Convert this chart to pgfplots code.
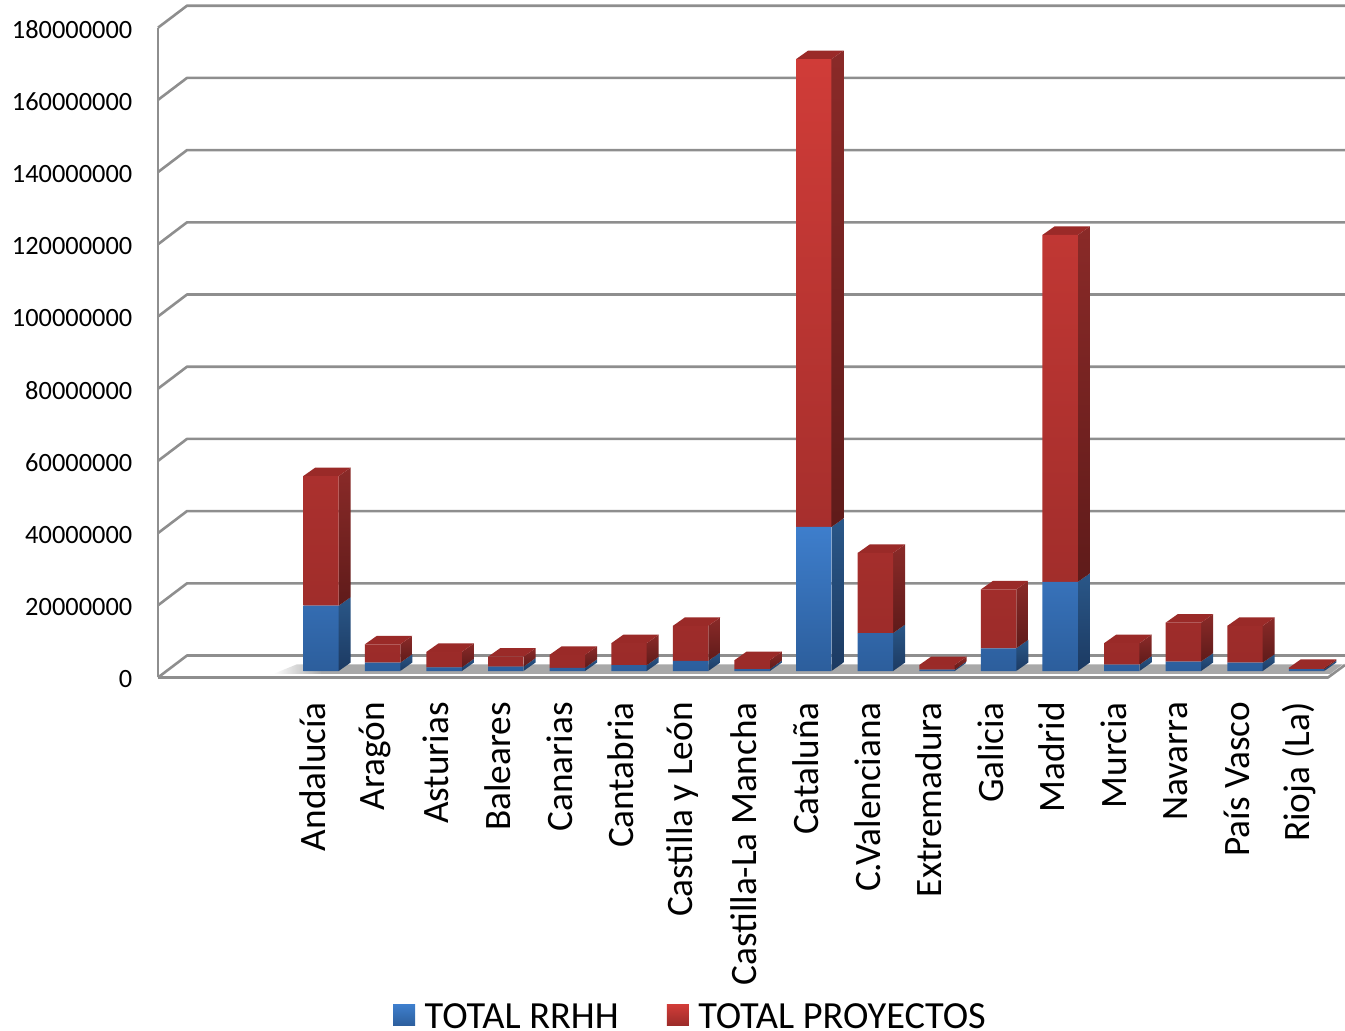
\documentclass[border=0pt]{standalone}
\usepackage{pgfplots}
\usepackage{pgfplotstable}
\usepackage{fontspec}
\setmainfont{Carlito}
\pgfplotsset{compat=1.18}
\definecolor{gridc}{HTML}{8E8E8E}
\definecolor{floorc}{HTML}{A8A8A8}
\definecolor{bluet}{HTML}{3E7ECC}
\definecolor{blueb}{HTML}{2C5E9C}
\definecolor{bluest}{HTML}{2A5788}
\definecolor{bluesb}{HTML}{1C3A62}
\definecolor{redt}{HTML}{D03C38}
\definecolor{redb}{HTML}{9A2B29}
\definecolor{redst}{HTML}{8A2A28}
\definecolor{redsb}{HTML}{5F1B1A}
\definecolor{redtop}{HTML}{9A2A28}
% values in millions; x = pixel position of the category
\pgfplotstableread{
x rrhh proy
321 18.1 35.9
382.6 2.3 5.1
444.2 1.0 4.3
505.8 1.2 2.76
567.4 0.9 3.6
629 1.6 6.1
690.6 2.8 9.7
752.2 0.55 2.45
813.8 39.9 129.6
875.4 10.5 22.2
937 0.35 1.31
998.6 6.3 16.3
1060.2 24.7 96.1
1121.8 1.75 5.95
1183.4 2.6 10.8
1245 2.3 10.2
1306.6 0.5 0.4
}\datatable
\pgfplotsset{
  common/.style={
    at={(0,0)}, anchor=south west, scale only axis,
    width=1187bp, height=673bp,
    xmin=158, xmax=1345, ymin=-1.939, ymax=184.49,
    clip=false,
  },
  sb/.style={top color=bluest,bottom color=bluesb,draw=none,no marks,forget plot},
  sr/.style={top color=redst,bottom color=redsb,draw=none,no marks,forget plot},
  tr/.style={fill=redtop,draw=none,no marks,forget plot},
  gl/.style={draw=gridc,line width=2.6bp,no marks,forget plot,line join=bevel},
}
\begin{document}
\begin{tikzpicture}
\useasboundingbox (-158bp,-353bp) rectangle (1187bp,678bp);
% walls, floor and the sides and tops of the columns
\begin{axis}[common, hide axis]
\addplot[gl] coordinates {(158,-1.8)(158,178.2)};
\addplot[gl] coordinates {(158,-1.8)(187,4.29)(1345,4.29)};
\addplot[gl] coordinates {(158,18.2)(187,24.29)(1345,24.29)};
\addplot[gl] coordinates {(158,38.2)(187,44.29)(1345,44.29)};
\addplot[gl] coordinates {(158,58.2)(187,64.29)(1345,64.29)};
\addplot[gl] coordinates {(158,78.2)(187,84.29)(1345,84.29)};
\addplot[gl] coordinates {(158,98.2)(187,104.29)(1345,104.29)};
\addplot[gl] coordinates {(158,118.2)(187,124.29)(1345,124.29)};
\addplot[gl] coordinates {(158,138.2)(187,144.29)(1345,144.29)};
\addplot[gl] coordinates {(158,158.2)(187,164.29)(1345,164.29)};
\addplot[gl] coordinates {(158,178.2)(187,184.29)(1345,184.29)};
\addplot[left color=white,right color=floorc,draw=none,no marks,forget plot]
  coordinates {(273,-0.83)(297,1.86)(322,1.86)(322,-0.83)} --cycle;
\addplot[fill=floorc,draw=none,no marks,forget plot]
  coordinates {(321,-0.83)(1330,-0.83)(1343,1.86)(321,1.86)} --cycle;
\addplot[gl] coordinates {(158,-1.8)(1328,-1.8)(1345,1.66)};
\pgfplotsforeachungrouped \i in {0,...,16}{%
  \pgfplotstablegetelem{\i}{x}\of\datatable\let\cx\pgfplotsretval
  \pgfplotstablegetelem{\i}{rrhh}\of\datatable\let\cr\pgfplotsretval
  \pgfplotstablegetelem{\i}{proy}\of\datatable\let\cp\pgfplotsretval
  \pgfmathsetmacro\xl{\cx-17.7}\pgfmathsetmacro\xr{\cx+17.7}
  \pgfmathsetmacro\xbl{\cx-5.7}\pgfmathsetmacro\xbr{\cx+29.7}
  \pgfmathsetmacro\tt{\cr+\cp}
  \pgfmathsetmacro\zb{2.35}\pgfmathsetmacro\rb{\cr+2.35}\pgfmathsetmacro\tb{\tt+2.35}
  \edef\temp{%
    \noexpand\addplot[sb] coordinates {(\xr,0)(\xbr,\zb)(\xbr,\rb)(\xr,\cr)} --cycle;
    \noexpand\addplot[sr] coordinates {(\xr,\cr)(\xbr,\rb)(\xbr,\tb)(\xr,\tt)} --cycle;
    \noexpand\addplot[tr] coordinates {(\xl,\tt)(\xr,\tt)(\xbr,\tb)(\xbl,\tb)} --cycle;
  }\temp
}
\end{axis}
% front faces of the columns, labels and legend
\begin{axis}[common,
  ybar stacked, bar width=35.4,
  axis line style={draw=none}, major tick length=0pt,
  tick style={draw=none},
  xtick=data,
  xticklabels={Andalucía,Aragón,Asturias,Baleares,Canarias,Cantabria,Castilla y León,Castilla-La Mancha,Cataluña,C.Valenciana,Extremadura,Galicia,Madrid,Murcia,Navarra,País Vasco,Rioja (La)},
  xticklabel style={rotate=90, anchor=east, xshift=-24bp, yshift=8bp,
     font=\fontsize{37.4}{40}\selectfont, inner sep=0pt},
  xtick pos=bottom, ytick pos=left,
  ytick={-1.8,18.2,38.2,58.2,78.2,98.2,118.2,138.2,158.2,178.2},
  yticklabels={0,20000000,40000000,60000000,80000000,100000000,120000000,140000000,160000000,180000000},
  yticklabel style={font=\fontsize{26.5}{30}\selectfont, anchor=east, xshift=-25.5bp, yshift=-1.5bp, inner sep=0pt},
  legend columns=2,
  legend style={at={(axis cs:690.5,-95.4)},anchor=center,draw=none,fill=none,
     font=\fontsize{38.5}{41}\selectfont,inner sep=0pt,outer sep=0pt,
     nodes={text depth=0pt,text height=26bp},
     /tikz/every odd column/.append style={column sep=7.5bp},
     /tikz/every even column/.append style={column sep=46bp}},
]
\addplot[ybar,top color=bluet,bottom color=blueb,draw=none,
  legend image code/.code={\path[top color=bluet,bottom color=blueb,draw=none] (0bp,-10.5bp) rectangle (22bp,10.5bp);}]
  table[x=x,y=rrhh] {\datatable};
\addplot[ybar,top color=redt,bottom color=redb,draw=none,
  legend image code/.code={\path[top color=redt,bottom color=redb,draw=none] (0bp,-10.5bp) rectangle (22bp,10.5bp);}]
  table[x=x,y=proy] {\datatable};
\legend{TOTAL RRHH,TOTAL PROYECTOS}
\end{axis}
\end{tikzpicture}
\end{document}
